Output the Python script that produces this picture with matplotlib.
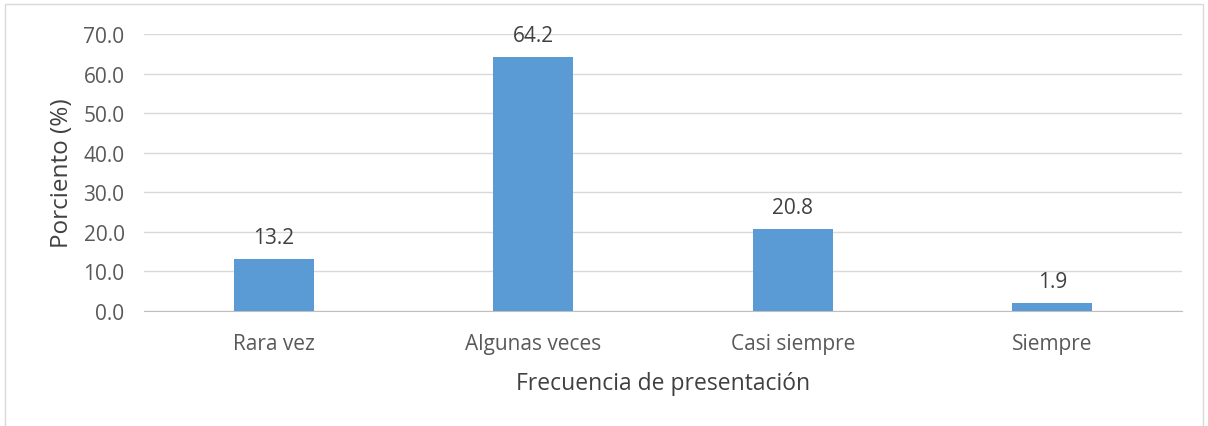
import matplotlib
matplotlib.use("Agg")
import matplotlib.pyplot as plt
from matplotlib.patches import Rectangle

categories = ["Rara vez", "Algunas veces", "Casi siempre", "Siempre"]
values = [13.2, 64.2, 20.8, 1.9]
yticks = [0, 10, 20, 30, 40, 50, 60, 70]

plt.rcParams['font.family'] = ['Open Sans', 'DejaVu Sans']

W, H = 1208, 427
fig = plt.figure(figsize=(W/100, H/100), dpi=100)
ax = fig.add_axes([144/W, 1-312/H, (1182-144)/W, (312-35)/H])

x = list(range(len(categories)))
ax.bar(x, values, width=0.31, color="#5B9BD5", zorder=3)
ax.set_xlim(-0.5, len(categories)-0.5)
ax.set_ylim(0, 70)
ax.set_yticks(yticks)
ax.set_yticklabels([f"{v:.1f}" for v in yticks])
ax.set_xticks(x)
ax.set_xticklabels(categories)
ax.grid(axis='y', color="#d9d9d9", linewidth=1, zorder=0)
for s in ['top', 'right', 'left']:
    ax.spines[s].set_visible(False)
ax.spines['bottom'].set_color("#bfbfbf")
ax.tick_params(axis='both', length=0, labelsize=15, colors="#595959")
ax.tick_params(axis='x', pad=16)
ax.tick_params(axis='y', pad=14)

for xi, v in zip(x, values):
    ax.annotate(f"{v:.1f}", (xi, v), xytext=(0, 8), textcoords='offset points',
                ha='center', va='bottom', fontsize=15, color="#404040")

ax.set_ylabel("Porciento (%)", fontsize=17.5, color="#404040", labelpad=7)
ax.set_xlabel("Frecuencia de presentación", fontsize=16.5, color="#404040", labelpad=12)

fig.patches.append(Rectangle((5/W, -0.1), (1203-5)/W, 1-5/H+0.1, transform=fig.transFigure,
                             fill=False, edgecolor="#d9d9d9", linewidth=1))

fig.savefig("out.png", dpi=100)
